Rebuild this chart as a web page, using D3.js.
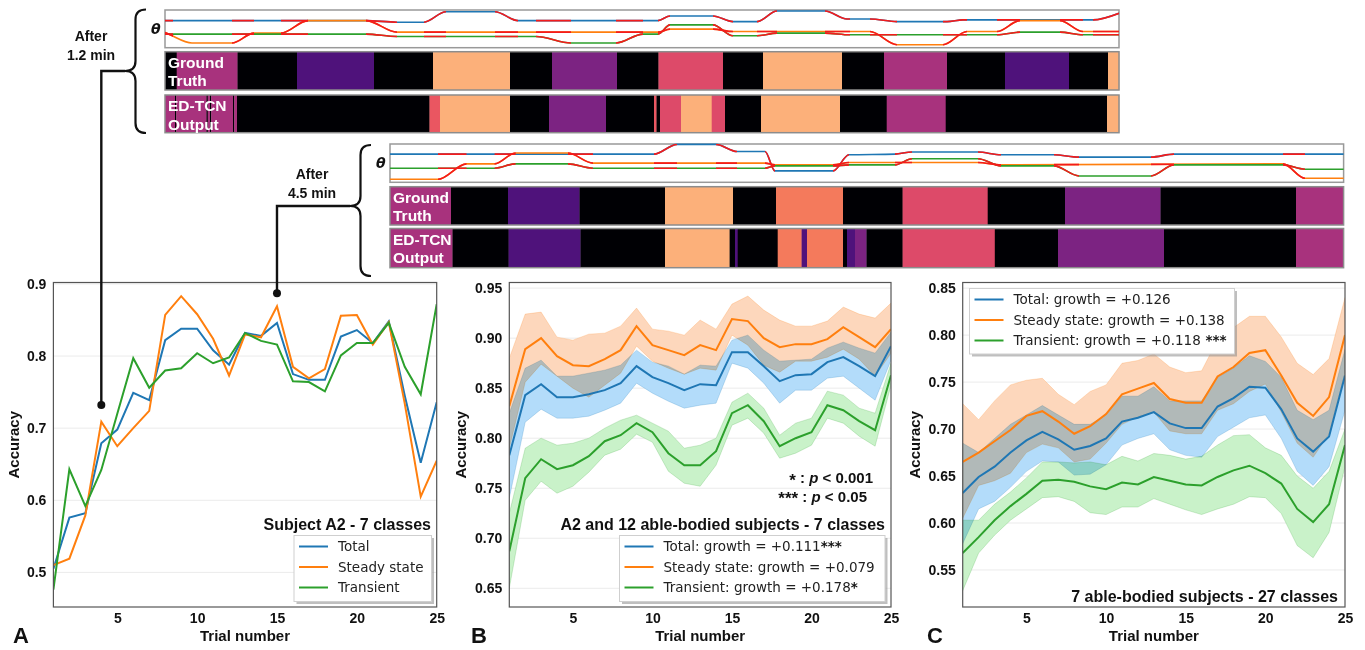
<!DOCTYPE html>
<html>
<head>
<meta charset="utf-8">
<script src="https://cdn.jsdelivr.net/npm/d3@7"></script>
<style>
  body { margin: 0; background: #fff; }
  svg { display: block; }
</style>
</head>
<body>
<svg id="fig" width="1365" height="650"></svg>
<script>
// ---- accuracy per trial ----
const trials = d3.range(1, 26);
const xTicks = [5, 10, 15, 20, 25];

const aTotal  = [0.505,0.576,0.582,0.679,0.698,0.749,0.739,0.822,0.838,0.838,0.808,0.788,0.832,0.828,0.846,0.775,0.767,0.767,0.827,0.836,0.818,0.848,0.745,0.652,0.736];
const aSteady = [0.510,0.519,0.579,0.709,0.675,0.700,0.724,0.857,0.883,0.858,0.824,0.773,0.830,0.826,0.869,0.785,0.769,0.782,0.856,0.857,0.816,0.847,0.734,0.605,0.655];
const aTrans  = [0.476,0.643,0.592,0.642,0.720,0.797,0.756,0.780,0.783,0.804,0.790,0.798,0.832,0.821,0.816,0.765,0.764,0.751,0.801,0.818,0.818,0.846,0.785,0.747,0.872];

const bTotal    = [0.783,0.843,0.854,0.841,0.841,0.844,0.848,0.855,0.872,0.861,0.855,0.848,0.854,0.853,0.886,0.886,0.872,0.857,0.863,0.864,0.876,0.881,0.872,0.862,0.892];
const bTotalLo  = [0.740,0.816,0.829,0.820,0.820,0.822,0.828,0.835,0.855,0.845,0.837,0.830,0.833,0.835,0.875,0.870,0.855,0.835,0.848,0.848,0.860,0.862,0.850,0.838,0.878];
const bTotalHi  = [0.825,0.870,0.878,0.862,0.862,0.865,0.868,0.873,0.888,0.876,0.872,0.864,0.873,0.872,0.898,0.903,0.888,0.877,0.878,0.879,0.890,0.896,0.890,0.885,0.906];
const bSteady   = [0.832,0.889,0.900,0.882,0.873,0.872,0.879,0.888,0.912,0.893,0.888,0.883,0.893,0.888,0.919,0.917,0.900,0.891,0.894,0.894,0.899,0.911,0.901,0.891,0.909];
const bSteadyLo = [0.790,0.856,0.874,0.862,0.850,0.841,0.853,0.865,0.892,0.877,0.870,0.864,0.870,0.868,0.903,0.893,0.873,0.866,0.877,0.877,0.881,0.889,0.879,0.862,0.885];
const bSteadyHi = [0.880,0.924,0.926,0.901,0.898,0.904,0.905,0.912,0.930,0.909,0.907,0.903,0.918,0.909,0.934,0.942,0.928,0.918,0.912,0.912,0.917,0.931,0.924,0.920,0.935];
const bTrans    = [0.687,0.760,0.779,0.769,0.773,0.782,0.797,0.803,0.815,0.806,0.785,0.773,0.773,0.787,0.825,0.833,0.817,0.792,0.800,0.806,0.833,0.828,0.817,0.808,0.863];
const bTransLo  = [0.650,0.738,0.757,0.745,0.752,0.766,0.783,0.789,0.804,0.796,0.767,0.755,0.752,0.773,0.813,0.820,0.805,0.780,0.785,0.793,0.820,0.815,0.802,0.792,0.853];
const bTransHi  = [0.725,0.790,0.800,0.793,0.795,0.800,0.810,0.818,0.823,0.815,0.807,0.790,0.793,0.800,0.836,0.845,0.830,0.803,0.815,0.820,0.847,0.843,0.830,0.825,0.875];

const cTotal    = [0.632,0.649,0.660,0.675,0.688,0.697,0.689,0.678,0.682,0.690,0.708,0.712,0.718,0.706,0.701,0.701,0.724,0.733,0.745,0.744,0.721,0.690,0.676,0.692,0.757];
const cTotalLo  = [0.578,0.615,0.623,0.638,0.655,0.666,0.665,0.651,0.652,0.662,0.683,0.690,0.695,0.678,0.672,0.670,0.692,0.702,0.712,0.715,0.690,0.655,0.640,0.660,0.720];
const cTotalHi  = [0.685,0.675,0.690,0.705,0.715,0.725,0.715,0.705,0.705,0.715,0.735,0.735,0.745,0.730,0.730,0.730,0.755,0.765,0.778,0.772,0.755,0.720,0.710,0.720,0.785];
const cSteady   = [0.665,0.675,0.687,0.699,0.714,0.719,0.708,0.695,0.703,0.716,0.737,0.743,0.749,0.732,0.728,0.728,0.756,0.766,0.781,0.784,0.757,0.728,0.714,0.734,0.800];
const cSteadyLo = [0.605,0.640,0.645,0.653,0.675,0.684,0.680,0.665,0.668,0.685,0.705,0.713,0.718,0.698,0.695,0.695,0.720,0.727,0.740,0.748,0.718,0.685,0.670,0.695,0.760];
const cSteadyHi = [0.727,0.710,0.730,0.747,0.752,0.754,0.737,0.726,0.740,0.747,0.770,0.773,0.780,0.766,0.760,0.762,0.795,0.808,0.820,0.820,0.798,0.770,0.758,0.775,0.840];
const cTrans    = [0.568,0.585,0.603,0.618,0.631,0.645,0.646,0.644,0.639,0.636,0.643,0.641,0.649,0.645,0.641,0.640,0.649,0.656,0.661,0.653,0.642,0.615,0.601,0.620,0.683];
const cTransLo  = [0.528,0.568,0.587,0.603,0.615,0.627,0.628,0.623,0.611,0.609,0.617,0.617,0.626,0.620,0.614,0.609,0.615,0.620,0.628,0.627,0.610,0.576,0.563,0.590,0.660];
const cTransHi  = [0.603,0.603,0.620,0.633,0.648,0.665,0.665,0.664,0.665,0.662,0.671,0.666,0.674,0.672,0.668,0.671,0.683,0.693,0.694,0.680,0.672,0.650,0.637,0.655,0.700];

const legendA = ["Total", "Steady state", "Transient"];
const legendB = ["Total: growth = +0.111", "Steady state: growth = +0.079", "Transient: growth = +0.178"];
const starsB  = ["***", "", "*"];
const legendC = ["Total: growth = +0.126", "Steady state: growth = +0.138", "Transient: growth = +0.118"];
const starsC  = ["", "", " ***"];

// ---- segmentation strips [start frame, end frame, class] ----
const classColors = ["#000004", "#4f127b", "#7c2382", "#a8327d", "#dd4a69", "#ea5661", "#f47a5c", "#fcb07a"];

const topGT = [[0,11.7,0],[11.7,72.5,3],[72.5,132,0],[132,209,1],[209,268,0],[268,345,7],[345,387,0],[387,452,2],[452,493.5,0],
  [493.5,558,4],[558,598,0],[598,677,7],[677,719,0],[719,782,3],[782,840,0],[840,904,1],[904,943,0],[943,954,7]];
const topED = [[0,10,3],[10,11.2,0],[11.2,41.5,3],[41.5,42.7,0],[42.7,45,3],[45,46.2,0],[46.2,68,3],[68,69.2,0],[69.2,72,3],
  [72,264.5,0],[264.5,275,5],[275,345,7],[345,384,0],[384,441,2],[441,489,0],[489,491.5,5],[491.5,495,0],[495,516,4],
  [516,546.7,7],[546.7,560,4],[560,596,0],[596,675,7],[675,721.7,0],[721.7,780.7,3],[780.7,942,0],[942,954,7]];
const midGT = [[0,61,3],[61,118,0],[118,189.5,1],[189.5,275,0],[275,343,7],[343,386,0],[386,453,6],[453,512.6,0],
  [512.6,597.7,4],[597.7,675,0],[675,770.5,2],[770.5,906,0],[906,953.6,3]];
const midED = [[0,62.5,3],[62.5,118.6,0],[118.6,190.5,1],[190.5,275,0],[275,339.6,7],[339.6,345,0],[345,347.7,1],[347.7,387.7,0],
  [387.7,411.6,6],[411.6,417,1],[417,453,6],[453,457,0],[457,465,1],[465,476.5,2],[476.5,512.6,0],[512.6,604.8,4],
  [604.8,668,0],[668,774,2],[774,906,0],[906,953.6,3]];

// joint angles [frame, angle]
const topBlue = [[0,27.3],[201,27.3],[232,25.7],[259,25.7],[281,36.3],[330,36.3],[353,27.3],[493,27.3],[505,32],[548,32],[568,26.3],
  [592,26.3],[612,37],[660,37],[682,29],[705,29],[732,26.3],[782,26.3],[798,28],[928,28],[954,34.7]];
const topOrange = [[0,15.3],[5,13],[27,4.7],[67,4.7],[89,14.7],[116,14.7],[143,27.3],[201,27.3],[232,15.7],[493,15.7],[505,18.7],
  [548,18.7],[568,16.3],[705,16.3],[732,3],[778,3],[802,16.3],[832,16.3],[855,27.3],[895,27.3],[918,16.3],[954,16.3]];
const topGreen = [[0,13.7],[201,13.7],[232,11.3],[371,11.3],[406,4.7],[451,4.7],[478,13.7],[493,13.7],[505,23],[548,23],[568,12],
  [592,12],[612,14.7],[660,14.7],[685,13],[832,13],[855,15.7],[895,15.7],[918,13],[954,13]];
const topRed = [[0,8],[67,89],[116,143],[201,232],[259,281],[330,353],[371,406],[451,478],[493,505],[548,568],[592,612],
  [660,685],[705,732],[778,802],[832,855],[895,918],[928,954]];

const midBlue = [[0,28],[264,28],[287,37.6],[326,37.6],[347,30.6],[375,30.6],[385,11.3],[443,11.3],[459,27.3],[505,28],[522,30],
  [588,30],[611,27.3],[664,27.3],[689,25],[761,25],[784,28],[953.6,28]];
const midOrange = [[0,3],[48,3],[76.5,18.3],[104.6,18.3],[125.6,29],[178,29],[203,19],[375,19],[385,17.3],[443,17.3],[459,19.6],
  [588,19.6],[611,17.3],[893,18.3],[915,4],[953.6,4]];
const midGreen = [[0,14],[104.6,14],[125.6,18.3],[178,18.3],[203,14],[375,14],[385,16.3],[443,16.3],[459,17.3],[505,17.3],[522,23.3],
  [588,23.3],[611,16.3],[664,16.3],[689,6.3],[761,6.3],[784,17.3],[893,17.3],[915,13],[953.6,13]];
const midRed = [[48,76.5],[104.6,125.6],[178,203],[264,287],[326,347],[375,385],[443,459],[505,522],[588,611],[664,689],[761,784],[893,915]];

// ---- drawing ----
const svg = d3.select("#fig");
const SANS = "'Liberation Sans', Arial, sans-serif";
const DEJAVU = "'DejaVu Sans', sans-serif";
const C_BLUE = "#1f77b4", C_ORANGE = "#ff7f0e", C_GREEN = "#2ca02c";
const AX_TOP = 282.5, AX_BOTTOM = 607;

svg.append("rect").attr("width", 1365).attr("height", 650).attr("fill", "#fff");

function drawPanel(p) {
  const x = d3.scaleLinear().domain([1, 25]).range([p.x0, p.x1]);
  const y = d3.scaleLinear().domain(p.yDomain).range([AX_BOTTOM, AX_TOP]);
  const g = svg.append("g");

  g.append("clipPath").attr("id", "clip" + p.letter)
    .append("rect").attr("x", p.x0).attr("y", AX_TOP).attr("width", p.x1 - p.x0).attr("height", AX_BOTTOM - AX_TOP);

  g.append("g").selectAll("line").data(p.yTicks).join("line")
    .attr("x1", p.x0).attr("x2", p.x1)
    .attr("y1", d => y(d)).attr("y2", d => y(d))
    .attr("stroke", "#ebebeb").attr("stroke-width", 1);

  const plot = g.append("g").attr("clip-path", "url(#clip" + p.letter + ")");
  const bands = plot.append("g").style("isolation", "isolate");
  const area = d3.area().x((d, i) => x(trials[i])).y0(d => y(d[0])).y1(d => y(d[1]));
  p.series.forEach(s => {
    if (!s.lo) return;
    bands.append("path")
      .datum(s.lo.map((v, i) => [v, s.hi[i]]))
      .attr("d", area)
      .attr("fill", s.band)
      .attr("stroke", s.color).attr("stroke-opacity", 0.25).attr("stroke-width", 0.8)
      .style("mix-blend-mode", "multiply");
  });

  const line = d3.line().x((d, i) => x(trials[i])).y(d => y(d));
  p.series.forEach(s => {
    plot.append("path").datum(s.values).attr("d", line)
      .attr("fill", "none").attr("stroke", s.color).attr("stroke-width", 2);
  });

  g.append("rect")
    .attr("x", p.x0).attr("y", AX_TOP).attr("width", p.x1 - p.x0).attr("height", AX_BOTTOM - AX_TOP)
    .attr("fill", "none").attr("stroke", "#555").attr("stroke-width", 1.2);

  const yAxis = g.append("g").attr("transform", `translate(${p.x0},0)`)
    .call(d3.axisLeft(y).tickValues(p.yTicks).tickFormat(p.fmt).tickSize(0).tickPadding(7));
  const xAxis = g.append("g").attr("transform", `translate(0,${AX_BOTTOM})`)
    .call(d3.axisBottom(x).tickValues(xTicks).tickSize(0).tickPadding(6));
  [yAxis, xAxis].forEach(a => {
    a.select(".domain").remove();
    a.selectAll("text").attr("font-family", SANS).attr("font-weight", "bold")
      .attr("font-size", 14).attr("fill", "#111");
  });

  g.append("text").attr("transform", `translate(${p.x0 - p.ylabelGap},${(AX_TOP + AX_BOTTOM) / 2}) rotate(-90)`)
    .attr("text-anchor", "middle").attr("font-family", SANS).attr("font-weight", "bold")
    .attr("font-size", 15).attr("fill", "#111").text("Accuracy");
  g.append("text").attr("x", (p.x0 + p.x1) / 2).attr("y", 641)
    .attr("text-anchor", "middle").attr("font-family", SANS).attr("font-weight", "bold")
    .attr("font-size", 15).attr("fill", "#111").text("Trial number");
  g.append("text").attr("x", p.letterX).attr("y", 643)
    .attr("font-family", SANS).attr("font-weight", "bold").attr("font-size", 22).attr("fill", "#111").text(p.letter);

  g.append("text").attr("x", p.titleX).attr("y", p.titleY).attr("text-anchor", "end")
    .attr("font-family", SANS).attr("font-weight", "bold").attr("font-size", 16).attr("fill", "#111").text(p.title);

  // legend, rows in legend order
  const L = p.legend;
  const lg = g.append("g");
  lg.append("rect").attr("x", L.x + 2.5).attr("y", L.y + 2.5).attr("width", L.w).attr("height", L.h)
    .attr("fill", "#8a8a8a").attr("opacity", 0.55);
  lg.append("rect").attr("x", L.x).attr("y", L.y).attr("width", L.w).attr("height", L.h)
    .attr("fill", "#fff").attr("stroke", "#cfcfcf").attr("stroke-width", 1);
  const rows = lg.selectAll("g.row").data(p.series.slice().sort((a, b) => a.order - b.order)).join("g").attr("class", "row")
    .attr("transform", (d, i) => `translate(${L.x},${L.y + 11 + i * 20.5})`);
  rows.append("line").attr("x1", 5).attr("x2", 34).attr("y1", 0).attr("y2", 0)
    .attr("stroke", d => d.color).attr("stroke-width", 2);
  const t = rows.append("text").attr("x", 44).attr("y", 4.8)
    .attr("font-family", DEJAVU).attr("font-size", 13.5).attr("fill", "#222");
  t.append("tspan").text(d => d.label);
  t.append("tspan").attr("font-weight", "bold").attr("fill", "#111").text(d => d.stars || "");

  return { x, y };
}

const panelA = drawPanel({
  letter: "A", x0: 53.4, x1: 436.7, yDomain: [0.452, 0.902], yTicks: [0.5, 0.6, 0.7, 0.8, 0.9],
  fmt: d3.format(".1f"), ylabelGap: 34, letterX: 13,
  title: "Subject A2 - 7 classes", titleX: 431, titleY: 530,
  legend: { x: 294, y: 535.5, w: 137.5, h: 66 },
  series: [
    { values: aTotal, color: C_BLUE, label: legendA[0], order: 0 },
    { values: aSteady, color: C_ORANGE, label: legendA[1], order: 1 },
    { values: aTrans, color: C_GREEN, label: legendA[2], order: 2 }
  ]
});

drawPanel({
  letter: "B", x0: 509.3, x1: 891, yDomain: [0.6313, 0.9556], yTicks: [0.65, 0.7, 0.75, 0.8, 0.85, 0.9, 0.95],
  fmt: d3.format(".2f"), ylabelGap: 43, letterX: 471,
  title: "A2 and 12 able-bodied subjects - 7 classes", titleX: 885, titleY: 530,
  legend: { x: 619.5, y: 535.5, w: 265.5, h: 66 },
  series: [
    { values: bSteady, lo: bSteadyLo, hi: bSteadyHi, color: C_ORANGE, band: "#fdd7bc", label: legendB[1], stars: starsB[1], order: 1 },
    { values: bTotal, lo: bTotalLo, hi: bTotalHi, color: C_BLUE, band: "#b3dcfa", label: legendB[0], stars: starsB[0], order: 0 },
    { values: bTrans, lo: bTransLo, hi: bTransHi, color: C_GREEN, band: "#c9f2c9", label: legendB[2], stars: starsB[2], order: 2 }
  ]
});

drawPanel({
  letter: "C", x0: 962.7, x1: 1345, yDomain: [0.5106, 0.856], yTicks: [0.55, 0.6, 0.65, 0.7, 0.75, 0.8, 0.85],
  fmt: d3.format(".2f"), ylabelGap: 43, letterX: 927,
  title: "7 able-bodied subjects - 27 classes", titleX: 1338, titleY: 602,
  legend: { x: 969.5, y: 288.5, w: 265, h: 65.5 },
  series: [
    { values: cSteady, lo: cSteadyLo, hi: cSteadyHi, color: C_ORANGE, band: "#fdd7bc", label: legendC[1], stars: starsC[1], order: 1 },
    { values: cTotal, lo: cTotalLo, hi: cTotalHi, color: C_BLUE, band: "#b3dcfa", label: legendC[0], stars: starsC[0], order: 0 },
    { values: cTrans, lo: cTransLo, hi: cTransHi, color: C_GREEN, band: "#c9f2c9", label: legendC[2], stars: starsC[2], order: 2 }
  ]
});

// significance note in B
function sigNote(xEnd, yBase, stars, p) {
  const t = svg.append("text").attr("x", xEnd).attr("y", yBase).attr("text-anchor", "end")
    .attr("font-family", SANS).attr("font-weight", "bold").attr("font-size", 15).attr("fill", "#111");
  t.append("tspan").attr("font-size", 17).attr("dy", 2.5).text(stars);
  t.append("tspan").attr("dy", -2.5).text(" : ");
  t.append("tspan").attr("font-style", "italic").text("p");
  t.append("tspan").text(" < " + p);
}
sigNote(873, 483, "*", "0.001");
sigNote(867, 501.5, "***", "0.05");

// ---- strips ----
function drawStrip(s) {
  const x = d3.scaleLinear().domain([0, s.frames]).range([s.x0, s.x1]);
  const yT = d3.scaleLinear().domain([0, 38]).range([s.theta[1], s.theta[0]]);
  const g = svg.append("g");

  g.append("rect").attr("x", s.x0).attr("y", s.theta[0]).attr("width", s.x1 - s.x0).attr("height", s.theta[1] - s.theta[0])
    .attr("fill", "#fff").attr("stroke", "#999").attr("stroke-width", 1.5);

  const line = d3.line().x(d => x(d[0])).y(d => yT(d[1])).curve(d3.curveMonotoneX);
  const joints = [[s.blue, C_BLUE], [s.orange, C_ORANGE], [s.green, C_GREEN]];
  joints.forEach(([pts, col]) => {
    g.append("path").datum(pts).attr("d", line).attr("fill", "none").attr("stroke", col).attr("stroke-width", 1.6);
  });
  const cid = "red" + s.id;
  g.append("clipPath").attr("id", cid).selectAll("rect").data(s.red).join("rect")
    .attr("x", d => x(d[0])).attr("width", d => x(d[1]) - x(d[0]))
    .attr("y", s.theta[0]).attr("height", s.theta[1] - s.theta[0]);
  const redG = g.append("g").attr("clip-path", `url(#${cid})`);
  joints.forEach(([pts]) => {
    redG.append("path").datum(pts).attr("d", line).attr("fill", "none").attr("stroke", "#f41b1b").attr("stroke-width", 1.6);
  });

  [[s.gt, s.gtRow, ["Ground", "Truth"]], [s.ed, s.edRow, ["ED-TCN", "Output"]]].forEach(([segs, row, lab]) => {
    g.append("g").selectAll("rect").data(segs).join("rect")
      .attr("x", d => x(d[0])).attr("width", d => x(d[1]) - x(d[0]) + 0.3)
      .attr("y", row[0]).attr("height", row[1] - row[0])
      .attr("fill", d => classColors[d[2]]);
    g.append("rect").attr("x", s.x0).attr("y", row[0]).attr("width", s.x1 - s.x0).attr("height", row[1] - row[0])
      .attr("fill", "none").attr("stroke", "#8c8c8c").attr("stroke-width", 1.5);
    g.append("g").selectAll("text").data(lab).join("text")
      .attr("x", s.x0 + 3).attr("y", (d, i) => row[0] + 16 + i * 18.5)
      .attr("font-family", SANS).attr("font-weight", "bold").attr("font-size", 15.5).attr("fill", "#fff")
      .text(d => d);
  });

  g.append("text").attr("x", s.x0 - 14).attr("y", (s.theta[0] + s.theta[1]) / 2 + 5)
    .attr("font-family", DEJAVU).attr("font-style", "italic").attr("font-weight", "bold")
    .attr("font-size", 14).attr("fill", "#111").text("θ");
  return x;
}

drawStrip({ id: "top", frames: 954, x0: 165, x1: 1119, theta: [10, 47.7], gtRow: [51.7, 90], edRow: [95, 132.7],
  blue: topBlue, orange: topOrange, green: topGreen, red: topRed, gt: topGT, ed: topED });
drawStrip({ id: "mid", frames: 953.6, x0: 390, x1: 1343.6, theta: [144, 182.3], gtRow: [186.7, 225], edRow: [228.5, 267.7],
  blue: midBlue, orange: midOrange, green: midGreen, red: midRed, gt: midGT, ed: midED });

// ---- braces + connectors to panel A ----
const callouts = [
  { trial: 4, acc: 0.732, tipX: 125, armX: 146, y0: 9.5, y1: 133, yMid: 71, lines: ["After", "1.2 min"], textX: 91, textY: 40.5 },
  { trial: 15, acc: 0.887, tipX: 350, armX: 371, y0: 145, y1: 276, yMid: 206, lines: ["After", "4.5 min"], textX: 312, textY: 178.5 }
];
callouts.forEach(c => {
  const midX = (c.tipX + c.armX) / 2;
  const r = 10;
  const path = d3.path();
  path.moveTo(c.armX, c.y0);
  path.quadraticCurveTo(midX, c.y0, midX, c.y0 + r);
  path.lineTo(midX, c.yMid - r);
  path.quadraticCurveTo(midX, c.yMid, c.tipX, c.yMid);
  path.quadraticCurveTo(midX, c.yMid, midX, c.yMid + r);
  path.lineTo(midX, c.y1 - r);
  path.quadraticCurveTo(midX, c.y1, c.armX, c.y1);
  svg.append("path").attr("d", path.toString()).attr("fill", "none").attr("stroke", "#111").attr("stroke-width", 2.2);

  const px = panelA.x(c.trial), py = panelA.y(c.acc);
  svg.append("polyline").attr("points", `${c.tipX},${c.yMid} ${px},${c.yMid} ${px},${py}`)
    .attr("fill", "none").attr("stroke", "#111").attr("stroke-width", 2.4);
  svg.append("circle").attr("cx", px).attr("cy", py).attr("r", 4).attr("fill", "#111");

  svg.append("g").selectAll("text").data(c.lines).join("text")
    .attr("x", c.textX).attr("y", (d, i) => c.textY + i * 19)
    .attr("text-anchor", "middle").attr("font-family", SANS).attr("font-weight", "bold")
    .attr("font-size", 14).attr("fill", "#111").text(d => d);
});
</script>
</body>
</html>
